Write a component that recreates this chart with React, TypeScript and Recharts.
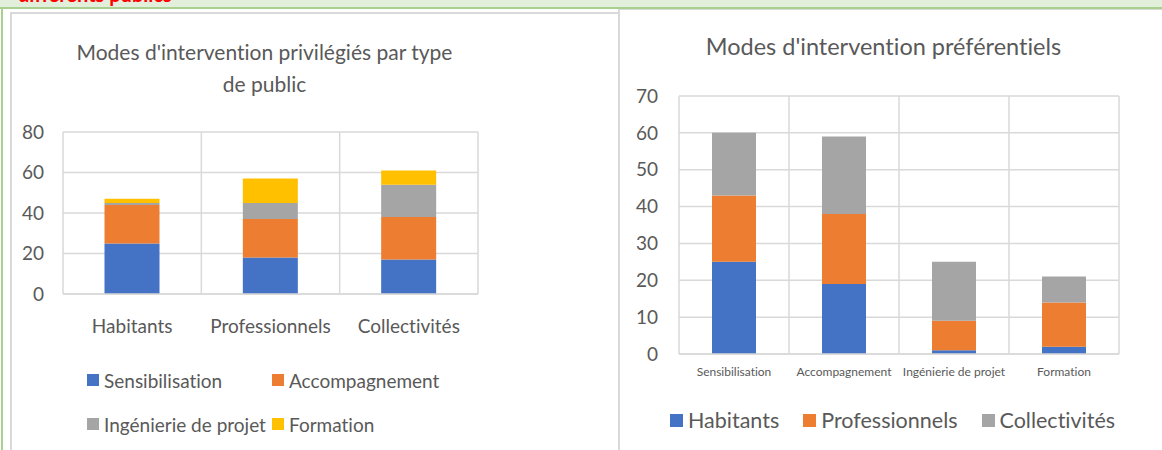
import React from 'react';
import { BarChart, Bar, XAxis, YAxis, CartesianGrid, Legend } from 'recharts';

const publics = ['Habitants', 'Professionnels', 'Collectivités'];
const modes = ['Sensibilisation', 'Accompagnement', 'Ingénierie de projet', 'Formation'];

// values per public, in the order of modes
const habitants = [25, 19, 1, 2];
const professionnels = [18, 19, 8, 12];
const collectivites = [17, 21, 16, 7];

const leftTicks = [0, 20, 40, 60, 80];
const rightTicks = [0, 10, 20, 30, 40, 50, 60, 70];

const modeColors = ['#4472C4', '#ED7D31', '#A5A5A5', '#FFC000'];
const publicColors = ['#4472C4', '#ED7D31', '#A5A5A5'];

const seriesByPublic = [habitants, professionnels, collectivites];

const byPublic = publics.map((p, i) => {
  const row: Record<string, string | number> = { name: p };
  modes.forEach((m, j) => {
    row[m] = seriesByPublic[i][j];
  });
  return row;
});

const byMode = modes.map((m, j) => {
  const row: Record<string, string | number> = { name: m };
  publics.forEach((p, i) => {
    row[p] = seriesByPublic[i][j];
  });
  return row;
});

const FONT = 'Lato, sans-serif';
const TEXT = '#595959';
const GRID = '#D9D9D9';

const boundaries = (count: number) => ({ offset }: any) =>
  Array.from({ length: count + 1 }, (_, i) => offset.left + (i * offset.width) / count);

// keep legend entries in series order (recharts sorts by name otherwise)
const inOrder = (names: string[]) => (payload: any[] = []) =>
  [...payload].sort((a, b) => names.indexOf(a.value) - names.indexOf(b.value));

const GridLegend = ({ payload }: any) => (
  <div style={{ display: 'grid', gridTemplateColumns: '185px auto', fontFamily: FONT, fontSize: 19, color: TEXT }}>
    {inOrder(modes)(payload).map((item: any) => (
      <div key={item.value} style={{ height: 44, display: 'flex', alignItems: 'center', whiteSpace: 'nowrap' }}>
        <span style={{ width: 12, height: 12, background: item.color, marginRight: 5, display: 'inline-block' }} />
        {item.value}
      </div>
    ))}
  </div>
);

const RowLegend = ({ payload }: any) => (
  <div style={{ display: 'flex', height: 30, alignItems: 'center', fontFamily: FONT, fontSize: 21.5, color: TEXT, whiteSpace: 'nowrap' }}>
    {inOrder(publics)(payload).map((item: any) => (
      <div key={item.value} style={{ display: 'flex', alignItems: 'center', marginRight: 24 }}>
        <span style={{ width: 13, height: 13, background: item.color, marginRight: 5, display: 'inline-block' }} />
        {item.value}
      </div>
    ))}
  </div>
);

const App: React.FC = () => {
  return (
    <div style={{ position: 'absolute', left: 0, top: 0, width: 1162, height: 450, overflow: 'hidden', background: '#fff', fontVariantLigatures: 'none' }}>
      {/* page frame behind the charts */}
      <div style={{ position: 'absolute', left: 0, top: 0, width: 1162, height: 8, background: '#E2EFDA', overflow: 'hidden' }}>
        <div style={{ position: 'absolute', left: 18, top: -16, fontFamily: FONT, fontWeight: 700, fontSize: 20, lineHeight: '20px', color: '#FF0000', whiteSpace: 'nowrap' }}>
          différents publics
        </div>
      </div>
      <div style={{ position: 'absolute', left: 0, top: 7, width: 1162, height: 2, background: '#A9D08E' }} />
      <div style={{ position: 'absolute', left: 1, top: 7, width: 2, height: 443, background: '#A9D08E' }} />

      {/* left chart */}
      <div style={{ position: 'absolute', left: 10, top: 12, width: 606, height: 450, border: `2px solid ${GRID}`, background: '#fff' }}>
        <div style={{ position: 'absolute', left: 0, top: 22, width: 505, textAlign: 'center', fontFamily: FONT, fontSize: 21, lineHeight: '32px', color: TEXT }}>
          Modes d'intervention privilégiés par type<br />de public
        </div>
        <div style={{ position: 'absolute', left: 0, top: 0 }}>
          <BarChart width={606} height={436} data={byPublic} margin={{ top: 118, right: 140, bottom: 4, left: 0 }} barCategoryGap="30%">
            <CartesianGrid stroke={GRID} strokeWidth={1.5} verticalCoordinatesGenerator={boundaries(byPublic.length)} />
            <XAxis dataKey="name" height={64} tickLine={false} tickSize={0} tickMargin={26} axisLine={{ stroke: GRID, strokeWidth: 1.5 }} tick={{ fill: TEXT, fontSize: 19, fontFamily: FONT }} />
            <YAxis width={51} domain={[0, 80]} ticks={leftTicks} tickLine={false} tickSize={0} tickMargin={19} axisLine={false} tick={{ fill: TEXT, fontSize: 19, fontFamily: FONT }} />
            <Legend verticalAlign="bottom" align="left" wrapperStyle={{ left: 75, width: 420 }} content={<GridLegend />} />
            {modes.map((m, j) => (
              <Bar key={m} dataKey={m} stackId="a" fill={modeColors[j]} isAnimationActive={false} />
            ))}
          </BarChart>
        </div>
      </div>

      {/* right chart */}
      <div style={{ position: 'absolute', left: 618, top: 9, width: 560, height: 450, borderLeft: `2px solid ${GRID}`, borderTop: `1px solid ${GRID}`, background: '#fff' }}>
        <div style={{ position: 'absolute', left: 0, top: 20, width: 527, textAlign: 'center', fontFamily: FONT, fontSize: 23.5, lineHeight: '32px', color: TEXT, whiteSpace: 'nowrap' }}>
          Modes d'intervention préférentiels
        </div>
        <div style={{ position: 'absolute', left: 0, top: 0 }}>
          <BarChart width={542} height={440} data={byMode} margin={{ top: 86, right: 43, bottom: 15, left: 0 }} barCategoryGap="30%">
            <CartesianGrid stroke={GRID} strokeWidth={1.5} verticalCoordinatesGenerator={boundaries(byMode.length)} />
            <XAxis dataKey="name" height={51} tickLine={false} tickSize={0} tickMargin={13} axisLine={{ stroke: GRID, strokeWidth: 1.5 }} tick={{ fill: TEXT, fontSize: 12, fontFamily: FONT }} interval={0} />
            <YAxis width={59} domain={[0, 70]} ticks={rightTicks} tickLine={false} tickSize={0} tickMargin={21} axisLine={false} tick={{ fill: TEXT, fontSize: 19, fontFamily: FONT }} />
            <Legend verticalAlign="bottom" align="left" wrapperStyle={{ left: 50, width: 480 }} content={<RowLegend />} />
            {publics.map((p, i) => (
              <Bar key={p} dataKey={p} stackId="b" fill={publicColors[i]} isAnimationActive={false} />
            ))}
          </BarChart>
        </div>
      </div>
    </div>
  );
};

export default App;
